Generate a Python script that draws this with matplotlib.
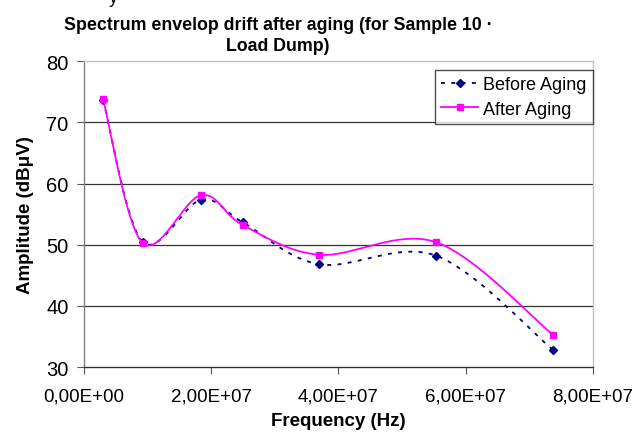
import numpy as np
import matplotlib
matplotlib.use("Agg")
import matplotlib.pyplot as plt
from matplotlib.lines import Line2D
from matplotlib.ticker import FuncFormatter, MultipleLocator

plt.rcParams['font.family'] = ['Liberation Sans', 'DejaVu Sans']

# values
freq = [3.0e6, 9.2e6, 1.84e7, 2.5e7, 3.7e7, 5.54e7, 7.38e7]
before_aging = [73.7, 50.5, 57.35, 53.65, 46.8, 48.2, 32.75]
after_aging = [73.8, 50.3, 58.1, 53.2, 48.35, 50.4, 35.2]

title = "Spectrum envelop drift after aging (for Sample 10 \u00b7\nLoad Dump)"
x_label = "Frequency (Hz)"
y_label = "Amplitude (dB\u03bcV)"


def smooth(x, y, n=40):
    # Excel style smoothed line: cubic bezier through the points,
    # control points from neighbours (Catmull-Rom, tension 1/6)
    x = np.asarray(x, float)
    y = np.asarray(y, float)
    px = np.concatenate([[x[0]], x, [x[-1]]])
    py = np.concatenate([[y[0]], y, [y[-1]]])
    t = np.linspace(0, 1, n)
    xs, ys = [], []
    for i in range(len(x) - 1):
        p0 = np.array([px[i + 1], py[i + 1]])
        p3 = np.array([px[i + 2], py[i + 2]])
        c1 = p0 + (np.array([px[i + 2], py[i + 2]]) - np.array([px[i], py[i]])) / 6
        c2 = p3 - (np.array([px[i + 3], py[i + 3]]) - np.array([px[i + 1], py[i + 1]])) / 6
        b = ((1 - t) ** 3)[:, None] * p0 + (3 * (1 - t) ** 2 * t)[:, None] * c1 \
            + (3 * (1 - t) * t ** 2)[:, None] * c2 + (t ** 3)[:, None] * p3
        xs.append(b[:, 0])
        ys.append(b[:, 1])
    return np.concatenate(xs), np.concatenate(ys)


fig = plt.figure(figsize=(6.34, 4.39), dpi=100)
ax = fig.add_axes([84 / 634, 1 - 368 / 439, (592.7 - 84) / 634, (368 - 62.3) / 439])

navy = '#000080'
magenta = '#FF00FF'

sx, sy = smooth(freq, before_aging)
ax.plot(sx, sy, color=navy, lw=1.3, ls=(0, (2.2, 3.5)), zorder=3)
ax.plot(freq, before_aging, ls='none', marker='D', ms=4, color=navy, zorder=4)

sx, sy = smooth(freq, after_aging)
ax.plot(sx, sy, color=magenta, lw=1.3, zorder=5)
ax.plot(freq, after_aging, ls='none', marker='s', ms=5, color=magenta, zorder=6)

ax.set_xlim(0, 8e7)
ax.set_ylim(30, 80)
ax.xaxis.set_major_locator(MultipleLocator(2e7))
ax.yaxis.set_major_locator(MultipleLocator(10))
ax.xaxis.set_major_formatter(FuncFormatter(lambda v, p: f"{v:.2E}".replace('.', ',')))

for yv in [40, 50, 60, 70]:
    ax.axhline(yv, color='#333333', lw=0.9, zorder=1)

ax.spines['top'].set_color('#c0c0c0')
ax.spines['right'].set_color('#c0c0c0')
ax.spines['left'].set_color('#808080')
ax.spines['bottom'].set_color('#333333')
for s in ax.spines.values():
    s.set_linewidth(1.0)

ax.tick_params(axis='y', direction='out', length=5, color='#555555', labelsize=14.5, pad=6)
ax.tick_params(axis='x', direction='out', length=5, color='#555555', labelsize=13.5, pad=10)

ax.set_xlabel(x_label, fontsize=13.5, fontweight='bold', labelpad=5)
ax.set_ylabel(y_label, fontsize=13.5, fontweight='bold', labelpad=9)

fig.text(278 / 634, 1 - 36 / 439, title, ha='center', va='center',
         fontsize=12.8, fontweight='bold', linespacing=1.25)
fig.text(113 / 634, 1 - 3 / 439, 'y', ha='center', va='baseline', fontsize=12.8)

handles = [
    Line2D([], [], color=navy, lw=1.3, ls=(0, (2.2, 3.5)), marker='D', ms=4),
    Line2D([], [], color=magenta, lw=1.3, marker='s', ms=5),
]
leg = ax.legend(handles, ['Before Aging', 'After Aging'], loc='upper right',
                bbox_to_anchor=(1.0, 0.971), fontsize=13, frameon=True, fancybox=False,
                borderpad=0.35, handlelength=2.0, handletextpad=0.3, labelspacing=0.4,
                borderaxespad=0.0)
leg.get_frame().set_edgecolor('#222222')
leg.get_frame().set_linewidth(1.0)

fig.savefig('out.png', dpi=100)
